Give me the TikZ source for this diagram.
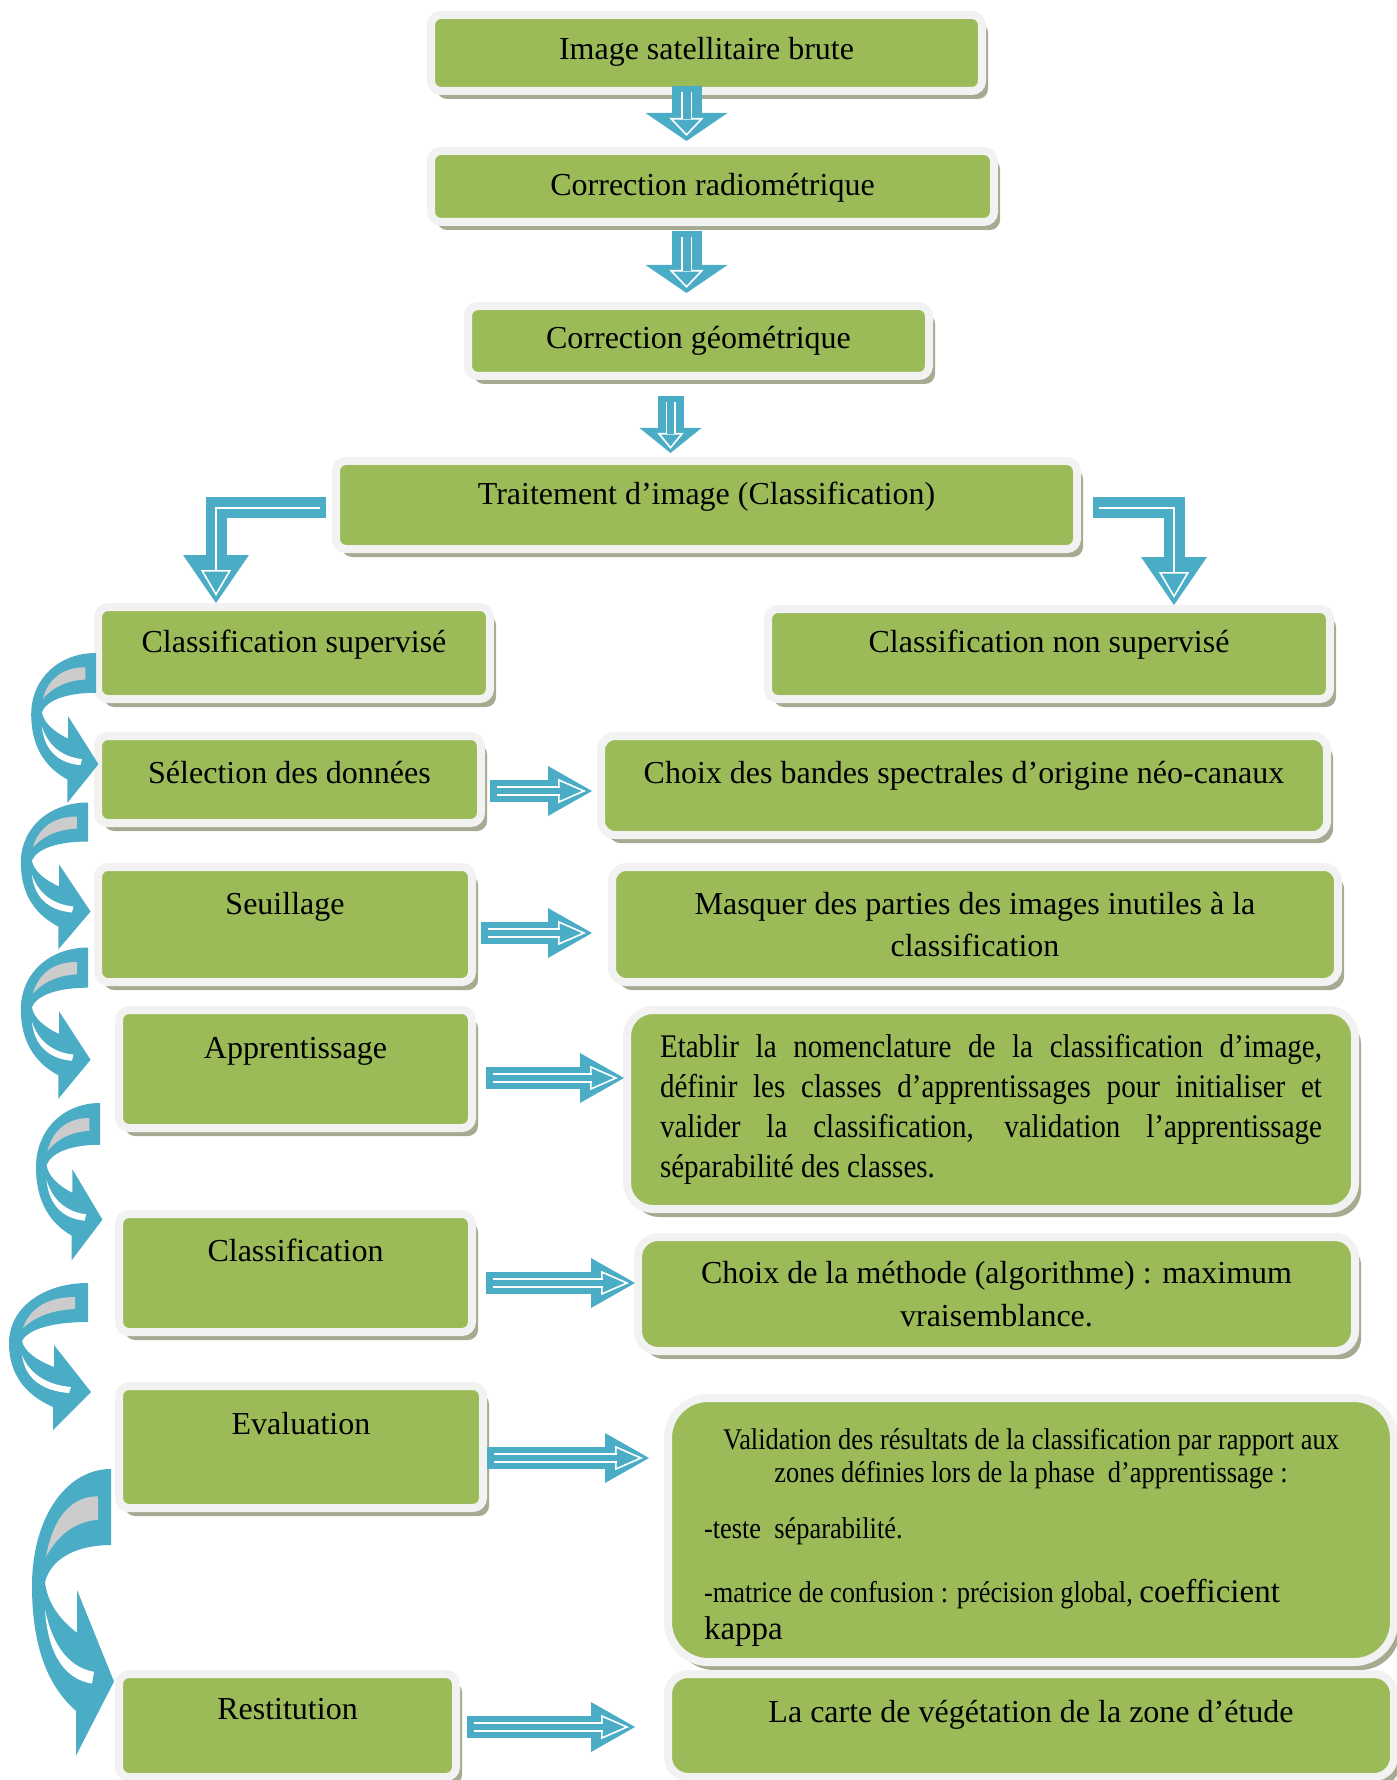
\documentclass[tikz,border=0pt]{standalone}
\usepackage{fontspec}
\setmainfont{Liberation Serif}
\newfontfamily\narrowserif[FakeStretch=0.88]{Liberation Serif}
\usetikzlibrary{arrows.meta,calc,shadows}

\definecolor{boxgreen}{RGB}{155,187,89}
\definecolor{boxrim}{RGB}{242,242,242}
\definecolor{boxshade}{RGB}{165,170,145}
\definecolor{arrowblue}{RGB}{75,172,198}
\definecolor{backgray}{RGB}{204,204,204}

\begin{document}
\begin{tikzpicture}[
  x=0.5pt, y=-0.5pt,
  box/.style 2 args={draw=boxrim, line width=4pt, fill=boxgreen, rounded corners=5pt,
              minimum width={(#1+8)*0.5pt}, minimum height={(#2+8)*0.5pt},
              inner sep=0pt, align=center, font=\fontsize{16}{21}\selectfont,
              drop shadow={shadow xshift=3pt, shadow yshift=-4pt, fill=boxshade, opacity=1}},
  downarr/.style={draw=arrowblue, line width=15pt,
              -{Triangle[length=14pt, width=41pt, line width=0pt]},
              postaction={draw=arrowblue, line width=0.8pt, shorten >=2.5pt,
                          -{Triangle[open, color=white, length=9pt, width=17pt, line width=0.8pt]}},
              postaction={draw=white, line width=0.8pt, double=arrowblue, double distance=4pt,
                          shorten <=3pt, shorten >=11pt, -}},
  downsmall/.style={draw=arrowblue, line width=13pt,
              -{Triangle[length=12.5pt, width=31pt, line width=0pt]},
              postaction={draw=arrowblue, line width=0.8pt, shorten >=2pt,
                          -{Triangle[open, color=white, length=8pt, width=13pt, line width=0.8pt]}},
              postaction={draw=white, line width=0.8pt, double=arrowblue, double distance=3.4pt,
                          shorten <=3pt, shorten >=9.5pt, -}},
  rightarr/.style={draw=arrowblue, line width=11pt,
              -{Triangle[length=22pt, width=25pt, line width=0pt]},
              postaction={draw=arrowblue, line width=0.8pt, shorten >=3pt,
                          -{Triangle[open, color=white, length=14pt, width=12pt, line width=0.8pt]}},
              postaction={draw=white, line width=0.8pt, double=arrowblue, double distance=3pt,
                          shorten <=3.5pt, shorten >=16pt, -}},
  elbow/.style={draw=arrowblue, line width=10.5pt,
              -{Triangle[length=24pt, width=33pt, line width=0pt]},
              postaction={draw=arrowblue, line width=0.8pt, shorten >=3.5pt,
                          -{Triangle[open, color=white, length=13pt, width=15pt, line width=0.8pt]}},
              postaction={draw=white, line width=0.8pt, shorten <=3pt, shorten >=16pt, -}},
  bendarrow/.pic={
    \fill[arrowblue] (0,0) .. controls (-45,0) and (-79,25) .. (-79,60)
        .. controls (-79,92) and (-62,112) .. (-35,124) -- (-35,147) -- (3,109)
        -- (-34,62) -- (-34,84) .. controls (-52,77) and (-64,68) .. (-66,58)
        .. controls (-60,46) and (-35,39) .. (0,39) -- cycle;
    \fill[backgray] (-13,14) .. controls (-40,14) and (-58,25) .. (-65,45)
        .. controls (-52,33) and (-35,27) .. (-13,26) -- cycle;
    \fill[white] (-66,72) .. controls (-58,92) and (-40,102) .. (-17,104)
        -- (-19,110) .. controls (-45,108) and (-63,96) .. (-66,72) -- cycle;
  }
]
\useasboundingbox (0,0) rectangle (1396,1780);

\node[box={543}{68}, text depth=4.5pt] (img) at (706.5,53) {Image satellitaire brute};
\node[box={555}{63}, text depth=2.5pt] (radio) at (712.5,186.5) {Correction radiométrique};
\node[box={453}{62}] (geo) at (698.5,341) {Correction géométrique};
\node[box={733}{80}, text depth=11.5pt] (trait) at (706.5,505) {Traitement d’image (Classification)};
\node[box={384}{84}, text depth=11.5pt] (sup) at (294,653) {Classification supervisé};
\node[box={554}{82}, text depth=12.5pt] (nonsup) at (1049,654) {Classification non supervisé};
\node[box={375}{79}, text depth=7.5pt] (sel) at (289.5,779.5) {Sélection des données};
\node[box={718}{91}, text depth=13.5pt, rounded corners=7pt] (choixb) at (964,785.5)
     {Choix des bandes spectrales d’origine néo-canaux};
\node[box={366}{107}, text depth=21.5pt] (seuil) at (285,924.5) {Seuillage};
\node[box={718}{107}, rounded corners=7pt] (masq) at (975,924.5)
     {Masquer des parties des images inutiles à la\\classification};
\node[box={345}{110}, text depth=21.5pt] (appr) at (295.5,1069) {Apprentissage};
\node[box={720}{191}, rounded corners=13pt, text width=331pt, align=justify,
      font=\narrowserif\fontsize{16.5}{20}\selectfont] (etab) at (991,1109.5)
     {Etablir la nomenclature de la classification d’image,\linebreak
      définir les classes d’apprentissages pour initialiser et\linebreak
      valider la classification, validation l’apprentissage\linebreak
      séparabilité des classes.};
\node[box={345}{110}, text depth=22.5pt] (class) at (295.5,1273) {Classification};
\node[box={709}{106}, rounded corners=10pt, font=\fontsize{16}{21.5}\selectfont] (choixm) at (996.5,1294)
     {Choix de la méthode (algorithme) : maximum\\vraisemblance.};
\node[box={356}{114}, text depth=23.5pt] (eval) at (301,1447) {Evaluation};
\node[box={718}{256}, rounded corners=20pt] (valid) at (1031,1530)
     {\parbox[c][132pt][t]{327pt}{\vspace*{15pt}\narrowserif\fontsize{15}{16.5}\selectfont
      \centering Validation des résultats de la classification par rapport aux\\
      zones définies lors de la phase\ \ d’apprentissage :\par
      \raggedright\vspace{11.5pt}-teste\ \ séparabilité.\par
      \vspace{13.5pt}-matrice de confusion : précision global,
      {\rmfamily\fontsize{16.5}{18.5}\selectfont coefficient\\kappa\par}}};
\node[box={329}{95}, text depth=16.5pt] (rest) at (287.5,1725.5) {Restitution};
\node[box={718}{95}, text depth=14.5pt, rounded corners=10pt] (carte) at (1031,1725.5)
     {La carte de végétation de la zone d’étude};

\draw[downarr] ($(img.south)+(-20,-9)$) -- ($(img.south |- radio.north)+(-20,-6)$);
\draw[downarr] ($(radio.south)+(-26,5)$) -- ($(radio.south |- geo.north)+(-26,-9)$);
\draw[downsmall] ($(geo.south)+(-28,16)$) -- ($(geo.south |- trait.north)+(-28,-4)$);

\draw[elbow] ($(trait.west)+(-6,3)$) -| ($(sup.north west)+(122,0)$);
\draw[elbow] ($(trait.east)+(12,3)$) -| ($(nonsup.north west)+(410,0)$);

\draw[rightarr] ($(sel.east)+(5,11.5)$) -- ($(choixb.west |- sel.east)+(-5,11.5)$);
\draw[rightarr] ($(seuil.east)+(5,8.5)$) -- ($(masq.west |- seuil.east)+(-16,8.5)$);
\draw[rightarr] ($(appr.east)+(10,9)$) -- ($(etab.west |- appr.east)+(1,9)$);
\draw[rightarr] ($(class.east)+(10,10)$) -- ($(choixm.west |- class.east)+(1,10)$);
\draw[rightarr] ($(eval.east)+(0,11)$) -- ($(valid.west |- eval.east)+(-15,11)$);
\draw[rightarr] ($(rest.east)+(7,1.5)$) -- ($(carte.west |- rest.east)+(-29,1.5)$);

\pic[xscale=0.82, yscale=1.02] at ($(sup.west)+(2,0)$) {bendarrow};
\pic[xscale=0.85, yscale=1.0] at ($(sel.west)+(-6,23)$) {bendarrow};
\pic[xscale=0.85, yscale=1.03] at ($(seuil.west)+(-6,23)$) {bendarrow};
\pic[xscale=0.81, yscale=1.07] at ($(appr.west)+(-15,34)$) {bendarrow};
\pic at ($(class.west)+(-27,10)$) {bendarrow};
\pic[yscale=1.95] at ($(eval.west)+(-4,22)$) {bendarrow};
\end{tikzpicture}
\end{document}
